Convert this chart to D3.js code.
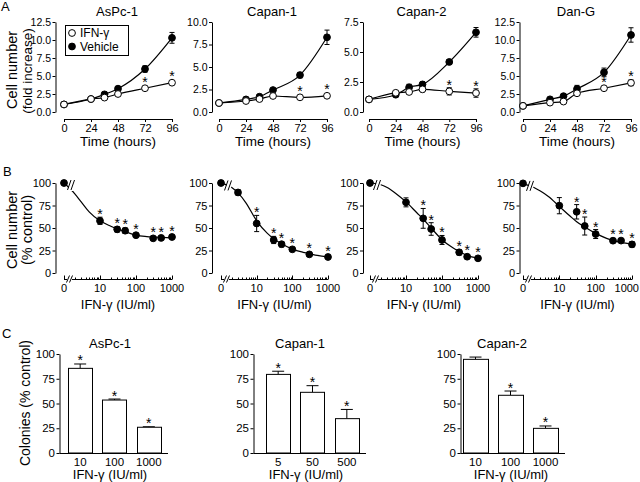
<!DOCTYPE html>
<html>
<head>
<meta charset="utf-8">
<script src="https://cdn.jsdelivr.net/npm/d3@7/dist/d3.min.js"></script>
<style>
html,body{margin:0;padding:0;background:#fff;}
svg{display:block;font-family:"Liberation Sans",Arial,Helvetica,sans-serif;}
</style>
</head>
<body>
<svg width="640" height="482"></svg>
<script>
// ---------------- data ----------------
// Panel A: growth curves
const growthCells = ["AsPc-1", "Capan-1", "Capan-2", "Dan-G"];
const growthHours = [0, 24, 36, 48, 72, 96];
const growthTicks = [0, 24, 48, 72, 96];
const growthYMax = [12.5, 10, 7.5, 12.5];
const ifnGrowth = [
  [1.05, 1.8, 2.0, 2.5, 3.3, 4.07],
  [1.0, 1.22, 1.44, 1.78, 1.63, 1.8],
  [1.05, 1.6, 1.67, 1.89, 1.72, 1.58],
  [0.85, 1.3, 1.45, 2.6, 3.3, 4.05]
];
const ifnGrowthErr = [
  [0.05, 0.1, 0.1, 0.15, 0.2, 0.2],
  [0.05, 0.1, 0.1, 0.1, 0.15, 0.15],
  [0.05, 0.1, 0.15, 0.2, 0.3, 0.35],
  [0.05, 0.15, 0.25, 0.2, 0.25, 0.4]
];
const vehGrowth = [
  [1.05, 1.8, 2.45, 3.24, 5.97, 10.3],
  [1.0, 1.4, 1.7, 2.44, 4.1, 8.3],
  [1.05, 1.44, 2.06, 2.3, 4.17, 6.64],
  [0.85, 1.76, 2.2, 3.2, 5.5, 10.7]
];
const vehGrowthErr = [
  [0.05, 0.1, 0.15, 0.2, 0.45, 0.75],
  [0.05, 0.1, 0.15, 0.15, 0.3, 0.8],
  [0.05, 0.1, 0.25, 0.2, 0.2, 0.4],
  [0.05, 0.15, 0.2, 0.5, 0.6, 1.0]
];
const growthSig = [[72, 96], [72, 96], [72, 96], [72, 96]];
const legendLabels = ["IFN-γ", "Vehicle"];

// Panel B: dose response (0 dose drawn at the axis break)
const doseTickValues = [0, 10, 100, 1000];
const doseLevels = [
  [0, 10, 30, 50, 100, 300, 500, 1000],
  [0, 3, 10, 30, 50, 100, 300, 1000],
  [0, 10, 30, 50, 100, 300, 500, 1000],
  [0, 10, 30, 50, 100, 300, 500, 1000]
];
const doseResp = [
  [100, 58, 48.5, 47, 42, 38.5, 39, 40],
  [100, 89.5, 55, 36.7, 32, 26.3, 20.7, 17.8],
  [100, 78.5, 60.7, 48.9, 36.7, 23, 18.1, 16.3],
  [99.6, 74.8, 68, 52.2, 43.3, 35.9, 36, 31.8]
];
const doseErr = [
  [1, 4, 3, 3, 1, 1, 1, 1],
  [1, 3, 9, 4, 3, 1, 2, 1],
  [1, 5, 11, 7, 5, 3, 2, 2],
  [1, 9, 8, 10, 5, 1.5, 2, 3]
];
const doseSig = [
  [10, 30, 50, 100, 300, 500, 1000],
  [10, 30, 50, 100, 300, 1000],
  [30, 50, 100, 300, 500, 1000],
  [30, 50, 100, 300, 500, 1000]
];
const doseFitX = [1, 2, 3, 5, 10, 20, 30, 50, 100, 200, 300, 500, 1000];
const doseFit = [
  [100, 88, 79, 68, 58, 52, 49, 46, 42, 40.5, 40, 39.5, 39],
  [99.5, 95, 89, 78, 58, 44, 38, 32.5, 26.5, 23, 21.5, 19.5, 18],
  [100, 98, 95, 89, 79, 67, 60, 50, 37, 28, 24, 19.5, 16.5],
  [99, 95, 91, 85, 74, 63, 57, 51, 44, 38.5, 36, 34, 32]
];

// Panel C: colony formation
const colonyCells = ["AsPc-1", "Capan-1", "Capan-2"];
const colonyDoses = [["10", "100", "1000"], ["5", "50", "500"], ["10", "100", "1000"]];
const colonyVals = [[85.5, 53.5, 26], [79.4, 61.3, 34.7], [94.6, 58.3, 24.9]];
const colonyErr = [[4.4, 1, 0.5], [3.2, 6.7, 9.3], [2.3, 4.3, 2.4]];
const colonySig = [[true, true, true], [true, true, true], [false, true, true]];

// ---------------- drawing ----------------
const svg = d3.select("svg");
const FONT = '"Liberation Sans", Arial, Helvetica, sans-serif';

function styleAxis(g, fs) {
  g.attr("font-family", FONT).attr("font-size", fs);
  g.selectAll("text").attr("fill", "#000");
  g.selectAll("path,line").attr("stroke", "#000").attr("stroke-width", 1);
}
function text(x, y, s, fs, anchor = "middle", rot = 0) {
  const t = svg.append("text").attr("x", x).attr("y", y).attr("font-size", fs)
    .attr("text-anchor", anchor).attr("fill", "#000").text(s);
  if (rot) t.attr("transform", `rotate(${rot},${x},${y})`);
  return t;
}
function star(g, x, yb) {
  g.append("text").attr("x", x).attr("y", yb).attr("text-anchor", "middle")
    .attr("font-size", 14).attr("fill", "#000").text("*");
}
function errBar(g, x, y1, y2, cap) {
  g.append("line").attr("x1", x).attr("x2", x).attr("y1", y1).attr("y2", y2).attr("stroke", "#000");
  [y1, y2].forEach(yy => g.append("line").attr("x1", x - cap / 2).attr("x2", x + cap / 2)
    .attr("y1", yy).attr("y2", yy).attr("stroke", "#000"));
}

// panel letters
text(1, 10.5, "A", 13, "start");
text(3, 175.5, "B", 13, "start");
text(2, 337.5, "C", 13, "start");

// y labels
text(17, 70, "Cell number", 14.5, "middle", -90);
text(31.5, 71, "(fold increase)", 13.5, "middle", -90);
text(17, 230, "Cell number", 14.5, "middle", -90);
text(31.5, 230, "(% control)", 14.5, "middle", -90);
text(30, 403, "Colonies (% control)", 14, "middle", -90);

// ----- Row A -----
const aYAxisX = [55.5, 212, 363, 519.5];
const aX0 = [64, 219, 369, 523];
const aX96 = [172, 327, 476, 631];
const R = 3.4;

growthCells.forEach((name, i) => {
  const g = svg.append("g");
  const x = d3.scaleLinear().domain([0, 96]).range([aX0[i], aX96[i]]);
  const y = d3.scaleLinear().domain([0, growthYMax[i]]).range([112, 22]);
  const ya = g.append("g").attr("transform", `translate(${aYAxisX[i]},0)`)
    .call(d3.axisLeft(y).tickValues(d3.range(0, growthYMax[i] + 0.001, 2.5))
      .tickFormat(d3.format(".1f")).tickSize(3).tickSizeOuter(0).tickPadding(1.5));
  styleAxis(ya, 10.5);
  const xa = g.append("g").attr("transform", "translate(0,119)")
    .call(d3.axisBottom(x).tickValues(growthTicks).tickSize(3).tickSizeOuter(0).tickPadding(2.5));
  styleAxis(xa, 11);
  const cx = (aX0[i] + aX96[i]) / 2;
  text(cx - 1, 15.5, name, 13);
  text(cx, 145.5, "Time (hours)", 13.5);

  const series = [
    { v: vehGrowth[i], e: vehGrowthErr[i], fill: "#000" },
    { v: ifnGrowth[i], e: ifnGrowthErr[i], fill: "#fff" }
  ];
  const line = d3.line().x((d, k) => x(growthHours[k])).y(d => y(d)).curve(d3.curveMonotoneX);
  series.forEach(s => {
    s.v.forEach((v, k) => errBar(g, x(growthHours[k]), y(v - s.e[k]), y(v + s.e[k]), 5));
  });
  series.forEach(s => {
    g.append("path").attr("d", line(s.v)).attr("fill", "none").attr("stroke", "#000").attr("stroke-width", 1.2);
  });
  series.forEach(s => {
    g.selectAll(null).data(s.v).join("circle")
      .attr("cx", (d, k) => x(growthHours[k])).attr("cy", d => y(d)).attr("r", R)
      .attr("fill", s.fill).attr("stroke", "#000").attr("stroke-width", 1);
  });
  growthSig[i].forEach(t => {
    const k = growthHours.indexOf(t);
    const v = ifnGrowth[i][k], e = ifnGrowthErr[i][k];
    star(g, x(t), Math.min(y(v + e), y(v) - R) + 2);
  });
  if (i === 0) {
    g.append("rect").attr("x", 65.5).attr("y", 25.5).attr("width", 63).attr("height", 30)
      .attr("fill", "#fff").attr("stroke", "#000");
    g.append("circle").attr("cx", 72).attr("cy", 33).attr("r", R).attr("fill", "#fff").attr("stroke", "#000");
    g.append("circle").attr("cx", 72).attr("cy", 46.5).attr("r", R).attr("fill", "#000").attr("stroke", "#000");
    text(80, 36.8, legendLabels[0], 12, "start");
    text(80, 50.7, legendLabels[1], 12, "start");
  }
});

// ----- Row B -----
const bYAxisX = [55.5, 212, 363, 519.5];
const bX1 = [64, 221, 370, 523];
const bX1000 = [172, 328, 478, 632];
const bAxisY = 279.5;

doseLevels.forEach((levels, i) => {
  const g = svg.append("g");
  const xl = d3.scaleLog().domain([1, 1000]).range([bX1[i], bX1000[i]]);
  const pos = d => xl(d === 0 ? 1 : d);
  const y = d3.scaleLinear().domain([0, 100]).range([273, 183]);
  const ya = g.append("g").attr("transform", `translate(${bYAxisX[i]},0)`)
    .call(d3.axisLeft(y).tickValues([0, 25, 50, 75, 100]).tickSize(3).tickSizeOuter(0).tickPadding(1.5));
  styleAxis(ya, 11);

  // broken log x axis
  const x0 = bX1[i];
  const ax = g.append("g").attr("stroke", "#000").attr("fill", "none").attr("stroke-width", 1);
  ax.append("line").attr("x1", x0).attr("x2", x0 + 3).attr("y1", bAxisY).attr("y2", bAxisY);
  ax.append("line").attr("x1", x0 + 0.5).attr("x2", x0 + 0.5).attr("y1", bAxisY).attr("y2", bAxisY - 4);
  ax.append("line").attr("x1", x0 + 2.5).attr("x2", x0 + 5.5).attr("y1", bAxisY + 3).attr("y2", bAxisY - 4);
  ax.append("line").attr("x1", x0 + 5.5).attr("x2", x0 + 8.5).attr("y1", bAxisY + 3).attr("y2", bAxisY - 4);
  ax.append("line").attr("x1", x0 + 8).attr("x2", xl(1000)).attr("y1", bAxisY).attr("y2", bAxisY);
  const minor = [];
  [1, 10, 100].forEach(dec => { for (let m = 2; m <= 9; m++) minor.push(dec * m); });
  minor.forEach(d => ax.append("line").attr("x1", Math.round(xl(d)) + 0.5).attr("x2", Math.round(xl(d)) + 0.5)
    .attr("y1", bAxisY).attr("y2", bAxisY - 2));
  [10, 100, 1000].forEach(d => ax.append("line").attr("x1", Math.round(xl(d)) + 0.5).attr("x2", Math.round(xl(d)) + 0.5)
    .attr("y1", bAxisY).attr("y2", bAxisY - 4));
  doseTickValues.forEach(d => {
    let xx = pos(d);
    const t = g.append("text").attr("x", xx).attr("y", 292).attr("font-size", 11)
      .attr("text-anchor", "middle").text(String(d));
    if (xx + 12.5 > 639) t.attr("x", 639).attr("text-anchor", "end");
  });
  text((bX1[i] + bX1000[i]) / 2, 309, "IFN-γ (IU/ml)", 13);

  // fitted curve
  const fit = d3.line().x((d, k) => xl(doseFitX[k])).y(d => y(d)).curve(d3.curveMonotoneX);
  g.append("path").attr("d", fit(doseFit[i])).attr("fill", "none").attr("stroke", "#000").attr("stroke-width", 1.2);
  // break marks on curve
  const yb = y(doseFit[i][0]) + 2;
  g.append("polygon").attr("points", `${x0 + 4},${yb + 6} ${x0 + 9},${yb + 6} ${x0 + 12},${yb - 5} ${x0 + 7},${yb - 5}`)
    .attr("fill", "#fff");
  [[x0 + 3.5, x0 + 7], [x0 + 7, x0 + 10.5]].forEach(([a, b]) =>
    g.append("line").attr("x1", a).attr("y1", yb + 5).attr("x2", b).attr("y2", yb - 5).attr("stroke", "#000"));

  levels.forEach((d, k) => errBar(g, pos(d), y(doseResp[i][k] - doseErr[i][k]), y(doseResp[i][k] + doseErr[i][k]), 5));
  g.selectAll(null).data(doseResp[i]).join("circle")
    .attr("cx", (d, k) => pos(levels[k])).attr("cy", d => y(d)).attr("r", R)
    .attr("fill", "#000").attr("stroke", "#000");
  doseSig[i].forEach(d => {
    const k = levels.indexOf(d);
    const v = doseResp[i][k], e = doseErr[i][k];
    star(g, pos(d), Math.min(y(v + e), y(v) - R) + 2);
  });
});

// ----- Row C -----
const cYAxisX = [59.5, 253.5, 460.5];
const cRange = [[63, 166], [261, 364], [458, 563]];
const cTitleX = [110, 300, 502];
const cLabelX = [110, 306, 511];

colonyCells.forEach((name, i) => {
  const g = svg.append("g");
  const x = d3.scaleBand().domain(colonyDoses[i]).range(cRange[i]).paddingInner(0.3).paddingOuter(0.15);
  const y = d3.scaleLinear().domain([0, 100]).range([453, 354]);
  const ya = g.append("g").attr("transform", `translate(${cYAxisX[i]},0)`)
    .call(d3.axisLeft(y).tickValues([0, 25, 50, 75, 100]).tickSize(3).tickSizeOuter(0).tickPadding(1.5));
  styleAxis(ya, 11.5);
  g.append("line").attr("x1", cYAxisX[i]).attr("x2", cRange[i][1] + 2)
    .attr("y1", 453.5).attr("y2", 453.5).attr("stroke", "#000");
  const bw = x.bandwidth();
  colonyDoses[i].forEach((d, k) => {
    const v = colonyVals[i][k], e = colonyErr[i][k];
    const cx = x(d) + bw / 2;
    g.append("line").attr("x1", cx).attr("x2", cx).attr("y1", y(v)).attr("y2", y(v + e)).attr("stroke", "#000");
    g.append("line").attr("x1", cx - 6).attr("x2", cx + 6).attr("y1", y(v + e)).attr("y2", y(v + e)).attr("stroke", "#000");
    g.append("rect").attr("x", Math.round(x(d)) + 0.5).attr("y", y(v)).attr("width", Math.round(bw))
      .attr("height", y(0) - y(v)).attr("fill", "#fff").attr("stroke", "#000");
    g.append("text").attr("x", cx).attr("y", 466).attr("font-size", 11.5).attr("text-anchor", "middle").text(d);
    if (colonySig[i][k]) star(g, cx, y(v + e) + 1.5);
  });
  text(cTitleX[i], 348, name, 13);
  text(cLabelX[i], 479, "IFN-γ (IU/ml)", 13);
});
</script>
</body>
</html>
